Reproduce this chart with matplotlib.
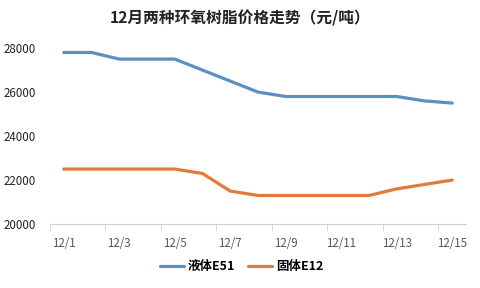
import matplotlib.pyplot as plt
import numpy as np

plt.rcParams['font.family'] = ['Noto Sans CJK SC', 'DejaVu Sans']

days = ["12/%d" % d for d in range(1, 16)]
e51 = [27800, 27800, 27500, 27500, 27500, 27000, 26500, 26000,
       25800, 25800, 25800, 25800, 25800, 25600, 25500]
e12 = [22500, 22500, 22500, 22500, 22500, 22300, 21500, 21300,
       21300, 21300, 21300, 21300, 21600, 21800, 22000]
series_names = ["液体E51", "固体E12"]
colors = ["#5B8EC1", "#E07B39"]

fig = plt.figure(figsize=(4.8, 2.88), dpi=100)
ax = fig.add_axes([0.104, 0.222, 0.867, 0.611])

x = np.arange(len(days))
for vals, name, c in zip([e51, e12], series_names, colors):
    ax.plot(x, vals, color=c, lw=2.3, solid_joinstyle="round",
            solid_capstyle="round", label=name)

ax.set_xlim(-0.5, len(days) - 0.5)
ax.set_ylim(20000, 28000)
ax.set_yticks(np.arange(20000, 28001, 2000))
ax.set_xticks(x[::2])
ax.set_xticklabels(days[::2])
ax.set_xticks(np.arange(-0.5, len(days), 2), minor=True)

for s in ["top", "right", "left"]:
    ax.spines[s].set_visible(False)
ax.spines["bottom"].set_color("#D0D0D0")
ax.tick_params(axis="x", which="major", length=0, pad=9, labelsize=8.3, labelcolor="#595959")
ax.tick_params(axis="x", which="minor", length=5, color="#D0D0D0")
ax.tick_params(axis="y", length=0, pad=10, labelsize=8.3, labelcolor="#222222")

fig.text(0.5, 0.935, "12月两种环氧树脂价格走势（元/吨）", ha="center", va="center",
         fontsize=11.3, fontweight="bold", color="#222222")

leg = fig.legend(loc="center", bbox_to_anchor=(0.503, 0.075), ncol=2, frameon=False,
                 handlelength=1.95, columnspacing=1.0, handletextpad=0.3,
                 prop={"size": 9, "weight": "bold"})

fig.savefig("out.png", dpi=100)
